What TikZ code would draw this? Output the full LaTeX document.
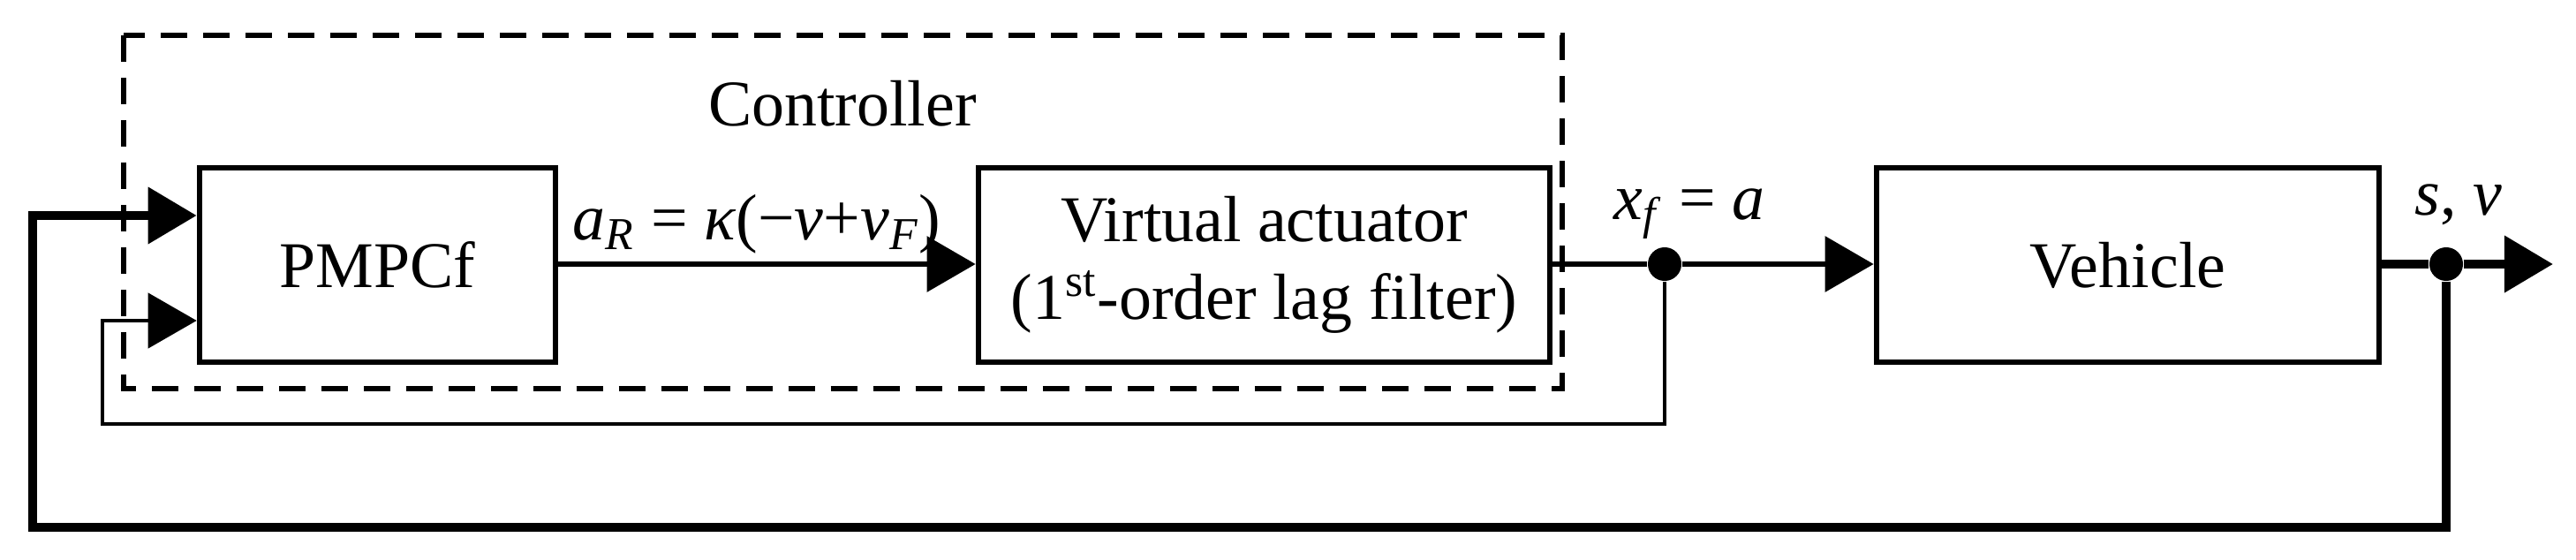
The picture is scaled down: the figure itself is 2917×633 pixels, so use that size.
\documentclass[tikz,border=0pt]{standalone}
\usepackage{fontspec}
\setmainfont{Liberation Serif}
\usetikzlibrary{arrows.meta}
\begin{document}
\begin{tikzpicture}[x=0.01cm,y=-0.01cm,
  box/.style={draw,line width=1.8pt,minimum height=2.2cm,inner sep=0pt,align=center,font=\fontsize{21}{25}\selectfont},
  lbl/.style={font=\fontsize{21}{25}\selectfont,inner sep=0pt},
  arr/.style={-{Triangle[length=0.55cm,width=0.62cm]}},
  dot/.style={circle,fill,inner sep=0pt,minimum size=0.38cm}]
\useasboundingbox (0,0) rectangle (2917,633);
\node[box,minimum width=4.03cm] (p) at (427.5,300) {PMPCf};
\node[box,minimum width=6.47cm] (va) at (1431.5,300) {Virtual actuator\\(1\textsuperscript{st}-order lag filter)};
\node[box,minimum width=5.69cm] (veh) at (2409.5,300) {Vehicle};
\draw[dashed,line width=1.6pt,dash pattern=on 0.3cm off 0.18cm] (140,40) rectangle (1769,440);
\node[lbl] (ctl) at (954,117) {Controller};
\node[dot] (j1) at (1885,299) {};
\node[dot] (j2) at (2770,299) {};
\coordinate (out) at (2891,299);
\coordinate (fb1) at (116,480);
\coordinate (fb2) at (37,597);
\draw[arr,line width=1.8pt] (p.east|-0,299) -- (va.west|-0,299);
\draw[line width=1.8pt] (va.east|-0,299) -- (j1);
\draw[arr,line width=1.8pt] (j1) -- (veh.west|-0,299);
\draw[line width=3pt] (veh.east|-0,299) -- (j2);
\draw[arr,line width=3pt] (j2) -- (out);
\draw[arr,line width=1.3pt] (j1) |- (fb1) |- (p.west|-0,363);
\draw[arr,line width=3pt] (j2) |- (fb2) |- (p.west|-0,244);
\node[lbl] (ar) at (857,254) {\textit{a}\textsubscript{\textit{R}} = \textit{κ}(−\textit{v}+\textit{v}\textsubscript{\textit{F}})};
\node[lbl] (xf) at (1913,242) {\textit{x}\textsubscript{\textit{f}} = \textit{a}};
\node[lbl] (sv) at (2784,232) {\textit{s}, \textit{v}};
\end{tikzpicture}
\end{document}
